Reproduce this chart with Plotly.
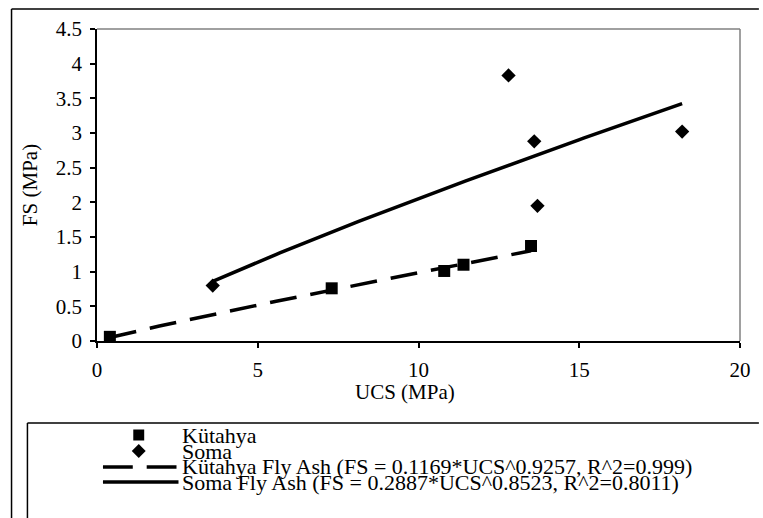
import numpy as np
import plotly.graph_objects as go

# ---- data ----
kutahya_ucs = [0.4, 7.3, 10.8, 11.4, 13.5]
kutahya_fs = [0.06, 0.76, 1.01, 1.10, 1.37]
soma_ucs = [3.6, 12.8, 13.6, 13.7, 18.2]
soma_fs = [0.80, 3.83, 2.88, 1.95, 3.02]
# power trend lines shown in the legend (FS = a * UCS^b)
kutahya_fit = (0.1169, 0.9257, 0.999)
soma_fit = (0.2887, 0.8523, 0.8011)

x_ticks = [0, 5, 10, 15, 20]
y_ticks = [0, 0.5, 1, 1.5, 2, 2.5, 3, 3.5, 4, 4.5]

legend_labels = [
    "Kütahya",
    "Soma",
    "Kütahya Fly Ash (FS = %.4f*UCS^%.4f, R^2=%s)" % (kutahya_fit[0], kutahya_fit[1], "0.999"),
    "Soma Fly Ash (FS = %.4f*UCS^%.4f, R^2=%s)" % (soma_fit[0], soma_fit[1], "0.8011"),
]

# ---- layout geometry (pixels) ----
W, H = 763, 518
L, R, T, B = 97, 744, 29, 341
PW, PH = R - L, B - T


def px(xp):
    return (xp - L) / PW


def py(yp):
    return (B - yp) / PH


def trend(xs, fit):
    x = np.linspace(min(xs), max(xs), 120)
    return x, fit[0] * x ** fit[1]


FONT = "Liberation Serif"

fig = go.Figure()

kx, ky = trend(kutahya_ucs, kutahya_fit)
sx, sy = trend(soma_ucs, soma_fit)

fig.add_trace(go.Scatter(x=kx, y=ky, mode="lines", name=legend_labels[2],
                         line=dict(color="black", width=3.5, dash="27px,14px"),
                         showlegend=False, hoverinfo="skip"))
fig.add_trace(go.Scatter(x=sx, y=sy, mode="lines", name=legend_labels[3],
                         line=dict(color="black", width=3.5),
                         showlegend=False, hoverinfo="skip"))
fig.add_trace(go.Scatter(x=kutahya_ucs, y=kutahya_fs, mode="markers", name=legend_labels[0],
                         marker=dict(symbol="square", size=12, color="black"),
                         showlegend=False))
fig.add_trace(go.Scatter(x=soma_ucs, y=soma_fs, mode="markers", name=legend_labels[1],
                         marker=dict(symbol="diamond", size=11, color="black"),
                         showlegend=False))

shapes = []
# outer chart border (top and left visible)
shapes.append(dict(type="line", xref="paper", yref="paper", x0=px(11), y0=py(9), x1=px(763), y1=py(9),
                   line=dict(color="black", width=1.5)))
shapes.append(dict(type="line", xref="paper", yref="paper", x0=px(11), y0=py(9), x1=px(11), y1=py(518),
                   line=dict(color="black", width=1.5)))
# plot area top/right border (grey)
shapes.append(dict(type="line", xref="paper", yref="paper", x0=0, y0=1, x1=1, y1=1,
                   line=dict(color="#808080", width=1.5)))
shapes.append(dict(type="line", xref="paper", yref="paper", x0=1, y0=0, x1=1, y1=1,
                   line=dict(color="#808080", width=1.5)))
# legend box (top and left visible)
shapes.append(dict(type="line", xref="paper", yref="paper", x0=px(27), y0=py(423), x1=px(763), y1=py(423),
                   line=dict(color="black", width=1.5)))
shapes.append(dict(type="line", xref="paper", yref="paper", x0=px(27), y0=py(423), x1=px(27), y1=py(518),
                   line=dict(color="black", width=1.5)))

# legend symbols
row_y = [435, 451, 467, 482]
cx = 139
s = 5.5
shapes.append(dict(type="rect", xref="paper", yref="paper", x0=px(cx - s), x1=px(cx + s),
                   y0=py(row_y[0] + s), y1=py(row_y[0] - s), fillcolor="black", line=dict(width=0)))
d = 7
path = "M %f,%f L %f,%f L %f,%f L %f,%f Z" % (
    px(cx - d), py(row_y[1]), px(cx), py(row_y[1] - d), px(cx + d), py(row_y[1]), px(cx), py(row_y[1] + d))
shapes.append(dict(type="path", xref="paper", yref="paper", path=path, fillcolor="black", line=dict(width=0)))
for a, b in [(103, 133), (147, 177)]:
    shapes.append(dict(type="line", xref="paper", yref="paper", x0=px(a), x1=px(b),
                       y0=py(row_y[2]), y1=py(row_y[2]), line=dict(color="black", width=3.5)))
shapes.append(dict(type="line", xref="paper", yref="paper", x0=px(103), x1=px(179),
                   y0=py(row_y[3]), y1=py(row_y[3]), line=dict(color="black", width=3.5)))

annotations = []
for lab, yy in zip(legend_labels, row_y):
    annotations.append(dict(text=lab, xref="paper", yref="paper", x=px(181), y=py(yy),
                            xanchor="left", yanchor="middle", showarrow=False,
                            font=dict(family=FONT, size=22, color="black")))
# x-axis title (placed where the reference shows it)
annotations.append(dict(text="UCS (MPa)", xref="paper", yref="paper", x=px(407), y=py(392),
                        xanchor="center", yanchor="middle", showarrow=False,
                        font=dict(family=FONT, size=21, color="black")))

fig.update_layout(
    width=W, height=H,
    margin=dict(l=L, r=W - R, t=T, b=H - B, pad=0),
    paper_bgcolor="white", plot_bgcolor="white",
    shapes=shapes, annotations=annotations,
    font=dict(family=FONT, size=21, color="black"),
    showlegend=False,
)
fig.update_xaxes(range=[0, 20], tickvals=x_ticks, ticks="outside", ticklen=5, tickwidth=1.5,
                 tickcolor="black", showline=True, linecolor="black", linewidth=1.5,
                 showgrid=False, zeroline=False, ticklabelstandoff=4)
fig.update_yaxes(range=[0, 4.5], tickvals=y_ticks, ticks="outside", ticklen=5, tickwidth=1.5,
                 tickcolor="black", showline=True, linecolor="black", linewidth=1.5,
                 showgrid=False, zeroline=False, ticklabelstandoff=4,
                 title=dict(text="FS (MPa)", font=dict(family=FONT, size=21), standoff=12))

fig.write_html("out.html", config={"displayModeBar": False},
               post_script="document.body.style.margin='0';document.body.style.padding='0';")
